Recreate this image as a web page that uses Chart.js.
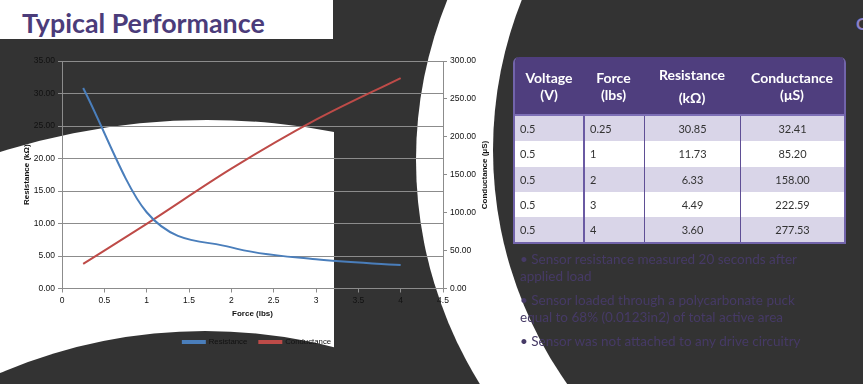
<!DOCTYPE html>
<html>
<head>
<meta charset="utf-8">
<script src="https://cdn.jsdelivr.net/npm/chart.js@4/dist/chart.umd.min.js"></script>
<style>
  body { margin: 0; width: 863px; height: 384px; overflow: hidden; position: relative; background: #333; font-family: Lato, sans-serif; }
  #bg { position: absolute; left: 0; top: 0; }
  .title { position: absolute; left: 0; top: 0; width: 333px; height: 39px; overflow: hidden; }
  .title span { position: absolute; left: 22px; top: 10px; font: bold 26.8px/26px Lato, sans-serif; color: #4b3c7a; white-space: nowrap; }
  #chartBox { position: absolute; left: 0; top: 50px; width: 514px; height: 306px; }
  .ytitle-r { position: absolute; left: 484px; top: 175px; transform: translate(-50%, -50%) rotate(-90deg); font: bold 8px "Liberation Sans", sans-serif; color: #111; white-space: nowrap; }
  table { position: absolute; left: 513px; top: 57px; width: 329px; border-collapse: separate; border-spacing: 0; table-layout: fixed;
          border: 2px solid #7264ab; border-top: 0; border-radius: 6px 6px 0 0; overflow: hidden; font-family: Lato, sans-serif; }
  th { background: #4f3e7e; color: #fff; font: bold 14px/17px Lato, sans-serif; height: 57px; padding: 0; text-align: center; vertical-align: middle; border-bottom: 2px solid #7d6fb6; }
  td { height: 25.3px; padding: 0 0 0 5px; font-size: 11px; color: #333; }
  tr.odd td { background: #d9d5e8; }
  tr.even td { background: #fff; }
  td.c { text-align: center; padding: 0; }
  td.b2 { border-left: 2px solid #6a5aa3; }
  td.b1 { border-left: 1px solid #5f4f95; }
  .notes { position: absolute; left: 520px; top: 251px; width: 330px; font: 13.5px/16.5px Lato, sans-serif; color: #463a66; }
  .notes p { margin: 0 0 8px 0; }
  .corner { position: absolute; left: 856px; top: 13px; font: bold 17px Lato, sans-serif; color: #8c80c8; }
</style>
</head>
<body>
<svg id="bg" width="863" height="384" viewBox="0 0 863 384">
  <defs>
    <clipPath id="leftClip"><rect x="0" y="0" width="334" height="384"/></clipPath>
  </defs>
  <rect width="863" height="384" fill="#333"/>
  <g clip-path="url(#leftClip)">
    <circle cx="207" cy="805" r="685" fill="#fff"/>
    <circle cx="205" cy="852" r="521" fill="#333"/>
  </g>
  <circle cx="841" cy="160" r="425" fill="#fff"/>
  <circle cx="899" cy="150" r="406" fill="#333"/>
  <rect x="0" y="0" width="333" height="39" fill="#fff"/>
</svg>

<div class="title"><span>Typical Performance</span></div>
<div class="corner">C</div>

<div id="chartBox"><canvas id="perfChart" width="514" height="306"></canvas></div>
<div class="ytitle-r">Conductance (μS)</div>

<table>
  <colgroup><col style="width:68px"><col style="width:61px"><col style="width:96px"><col style="width:104px"></colgroup>
  <thead>
    <tr><th>Voltage<br>(V)</th><th>Force<br>(lbs)</th><th style="line-height:23px">Resistance<br>(kΩ)</th><th>Conductance<br>(μS)</th></tr>
  </thead>
  <tbody id="rows"></tbody>
</table>

<div class="notes">
  <p>• Sensor resistance measured 20 seconds after<br>applied load</p>
  <p>• Sensor loaded through a polycarbonate puck<br>equal to 68% (0.0123in2) of total active area</p>
  <p>• Sensor was not attached to any drive circuitry</p>
</div>

<script>
// data
const voltageV = ['0.5', '0.5', '0.5', '0.5', '0.5'];
const forceLbs = [0.25, 1, 2, 3, 4];
const resistanceKOhm = [30.85, 11.73, 6.33, 4.49, 3.60];
const conductanceUS = [32.41, 85.20, 158.00, 222.59, 277.53];

// table rows
const tbody = document.getElementById('rows');
forceLbs.forEach((f, i) => {
    const tr = document.createElement('tr');
    tr.className = i % 2 === 0 ? 'odd' : 'even';
    tr.innerHTML = '<td>' + voltageV[i] + '</td>' +
        '<td class="b2">' + f + '</td>' +
        '<td class="c b1">' + resistanceKOhm[i].toFixed(2) + '</td>' +
        '<td class="c b1">' + conductanceUS[i].toFixed(2) + '</td>';
    tbody.appendChild(tr);
});

const axisFont = { family: 'Liberation Sans', size: 8.5 };
const legendFont = { family: 'Liberation Sans', size: 7.8 };
const titleFont = { family: 'Liberation Sans', size: 8, weight: 'bold' };
const gridGray = '#8c8c8c';
const ink = '#111';

new Chart(document.getElementById('perfChart'), {
    type: 'line',
    data: {
        datasets: [{
            label: 'Resistance',
            data: forceLbs.map((f, i) => ({ x: f, y: resistanceKOhm[i] })),
            yAxisID: 'yR',
            borderColor: '#4a7ebb',
            backgroundColor: '#4a7ebb',
            borderWidth: 2,
            pointRadius: 0,
            cubicInterpolationMode: 'monotone'
        }, {
            label: 'Conductance',
            data: forceLbs.map((f, i) => ({ x: f, y: conductanceUS[i] })),
            yAxisID: 'yC',
            borderColor: '#be4b48',
            backgroundColor: '#be4b48',
            borderWidth: 2,
            pointRadius: 0,
            cubicInterpolationMode: 'monotone'
        }]
    },
    options: {
        responsive: false,
        animation: false,
        devicePixelRatio: 1,
        layout: { padding: { top: 11, left: 0, right: 0, bottom: 0 } },
        scales: {
            x: {
                type: 'linear',
                min: 0, max: 4.5,
                ticks: { stepSize: 0.5, font: axisFont, color: ink, padding: 3, maxRotation: 0, callback: v => String(v) },
                grid: { drawOnChartArea: false, drawTicks: true, tickLength: 4, color: gridGray },
                border: { color: gridGray },
                title: { display: true, text: 'Force (lbs)', font: titleFont, color: ink, padding: { top: 0, bottom: 7.2 } },
                afterFit: s => { s.height = 37.7; }
            },
            yR: {
                position: 'left',
                min: 0, max: 35,
                ticks: { stepSize: 5, font: axisFont, color: ink, padding: 3, callback: v => v.toFixed(2) },
                grid: { color: gridGray, tickLength: 4 },
                border: { color: gridGray },
                title: { display: true, text: 'Resistance (kΩ)', font: titleFont, color: ink, padding: { top: 22, bottom: 0 } },
                afterFit: s => { s.width = 62; }
            },
            yC: {
                position: 'right',
                min: 0, max: 300,
                ticks: { stepSize: 50, font: axisFont, color: ink, padding: 3, callback: v => v.toFixed(2) },
                grid: { drawOnChartArea: false, color: gridGray, tickLength: 4 },
                border: { color: gridGray },
                afterFit: s => { s.width = 71; }
            }
        },
        plugins: {
            legend: {
                position: 'bottom',
                labels: { boxWidth: 22, boxHeight: 2, padding: 12, font: legendFont, color: ink }
            },
            tooltip: { enabled: false }
        }
    }
});
</script>
</body>
</html>
